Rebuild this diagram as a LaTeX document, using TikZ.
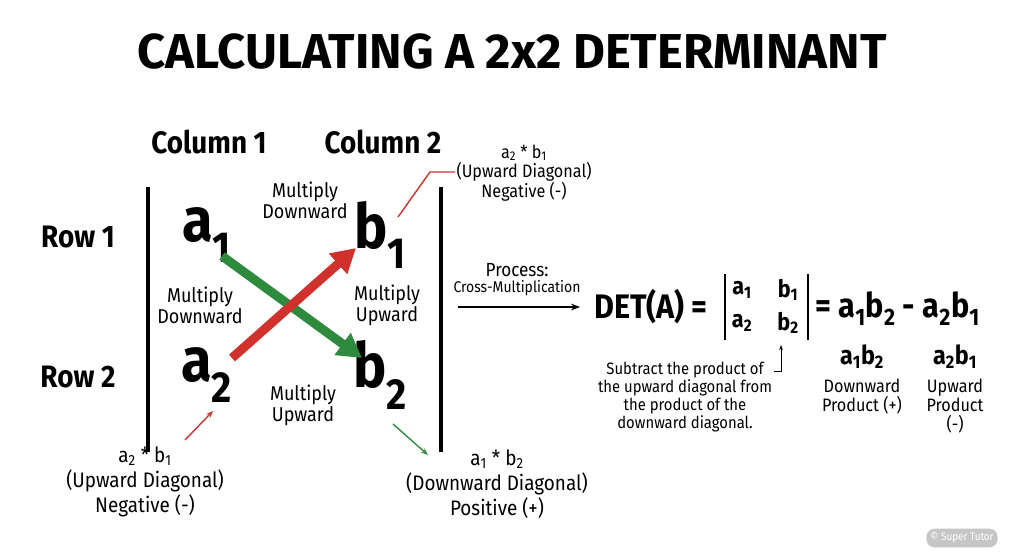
\documentclass[tikz,border=0pt]{standalone}
\usepackage{fontspec}
\setmainfont{Fira Sans}[FakeStretch=0.9]
\newfontfamily\ttlfont{Fira Sans}
\newcommand{\sbs}[1]{\textsubscript{#1}}
\usetikzlibrary{arrows.meta}
\begin{document}
\begin{tikzpicture}[x=1pt,y=-1pt,
  big/.style={font=\fontsize{62}{62}\selectfont\bfseries},
  hd/.style={font=\fontsize{31}{32}\selectfont\bfseries},
  lbl/.style={font=\fontsize{20}{21}\selectfont,align=center},
  captxt/.style={font=\fontsize{21}{25}\selectfont,align=center},
  bar/.style={line width=3.5pt},
  fat/.style={line width=9pt,-{Triangle[length=24pt,width=26pt]}},
  thin/.style={line width=1.4pt,-{Stealth[length=7pt]}}]
\definecolor{rd}{HTML}{D0312D}\definecolor{gr}{HTML}{2E8B3E}
\useasboundingbox (0,0) rectangle (1024,559);
\fill[white] (0,0) rectangle (1024,559);
\node[font=\fontsize{49}{49}\ttlfont\bfseries] (t) at (512,52) {CALCULATING A 2x2 DETERMINANT};
\node[hd] (c1) at (209,142) {Column 1};
\node[hd] (c2) at (383,142) {Column 2};
\node[hd] (r1) at (78,237) {Row 1};
\node[hd] (r2) at (78,377) {Row 2};
\coordinate (l1) at (148,187); \coordinate (l2) at (148,452);
\coordinate (q1) at (441,187); \coordinate (q2) at (441,452);
\draw[bar] (l1)--(l2); \draw[bar] (q1)--(q2);
\node[big] (a1) at (207,235) {a\sbs{1}};
\node[big] (b1) at (380,235) {b\sbs{1}};
\node[big] (a2) at (207,375) {a\sbs{2}};
\node[big] (b2) at (380,375) {b\sbs{2}};
\coordinate (g1) at (222,256); \coordinate (g2) at (362,358);
\coordinate (h1) at (232,358); \coordinate (h2) at (356,248);
\draw[fat,gr] (g1)--(g2);
\draw[fat,rd] (h1)--(h2);
\node[lbl] (m1) at (305,200) {Multiply\\Downward};
\node[lbl] (m2) at (200,305) {Multiply\\Downward};
\node[lbl] (m3) at (387,305) {Multiply\\Upward};
\node[lbl] (m4) at (303,405) {Multiply\\Upward};
\node[lbl,font=\fontsize{18}{19}\selectfont] (ct) at (524,173) {a\sbs{2} * b\sbs{1}\\(Upward Diagonal)\\Negative (-)};
\coordinate (k1) at (398,217); \coordinate (k2) at (430,172); \coordinate (k3) at (455,172);
\draw[rd,line width=1.4pt] (k1)--(k2)--(k3);
\node[captxt] (cl) at (145,482) {a\sbs{2} * b\sbs{1}\\(Upward Diagonal)\\Negative (-)};
\coordinate (e1) at (185,440); \coordinate (e2) at (213,411);
\draw[thin,rd] (e1)--(e2);
\node[captxt] (cr) at (497,484) {a\sbs{1} * b\sbs{2}\\(Downward Diagonal)\\Positive (+)};
\coordinate (f1) at (393,424); \coordinate (f2) at (428,455);
\draw[thin,gr] (f1)--(f2);
\node[font=\fontsize{19}{19}\selectfont] (p) at (517,270) {Process:};
\node[font=\fontsize{15.5}{16}\selectfont] (p2) at (517,288) {Cross-Multiplication};
\coordinate (s1) at (458,307); \coordinate (s2) at (580,307);
\draw[line width=1.6pt,-{Stealth[length=9pt]}] (s1)--(s2);
\node[font=\fontsize{34}{34}\selectfont\bfseries] (det) at (651,307) {DET(A) =};
\coordinate (v1) at (725,274); \coordinate (v2) at (725,340);
\coordinate (w1) at (808,274); \coordinate (w2) at (808,340);
\draw[line width=2.5pt] (v1)--(v2); \draw[line width=2.5pt] (w1)--(w2);
\node[font=\fontsize{24}{24}\selectfont\bfseries] (ma) at (742,290) {a\sbs{1}};
\node[font=\fontsize{24}{24}\selectfont\bfseries] (mb) at (788,290) {b\sbs{1}};
\node[font=\fontsize{24}{24}\selectfont\bfseries] (mc) at (742,323) {a\sbs{2}};
\node[font=\fontsize{24}{24}\selectfont\bfseries] (md) at (788,323) {b\sbs{2}};
\node[font=\fontsize{34}{34}\selectfont\bfseries,anchor=west] (res) at (812,309) {= a\sbs{1}b\sbs{2} - a\sbs{2}b\sbs{1}};
\node[font=\fontsize{16.5}{18}\selectfont,align=center] (note) at (685,397) {Subtract the product of\\the upward diagonal from\\the product of the\\downward diagonal.};
\coordinate (n1) at (774,371); \coordinate (n2) at (781,371); \coordinate (n3) at (781,345);
\draw[line width=0.8pt,-{Stealth[length=5pt]}] (n1)--(n2)--(n3);
\node[font=\fontsize{26}{26}\selectfont\bfseries] (x1) at (862,357) {a\sbs{1}b\sbs{2}};
\node[font=\fontsize{18}{19}\selectfont,align=center,anchor=north] (x2) at (862,375) {Downward\\Product (+)};
\node[font=\fontsize{26}{26}\selectfont\bfseries] (y1) at (955,357) {a\sbs{2}b\sbs{1}};
\node[font=\fontsize{18}{19}\selectfont,align=center,anchor=north] (y2) at (955,375) {Upward\\Product\\(-)};
\node[fill=gray!45,text=white,rounded corners=8pt,font=\fontsize{11}{11}\selectfont,inner sep=4pt] (wm) at (962,538) {© Super Tutor};
\end{tikzpicture}
\end{document}
